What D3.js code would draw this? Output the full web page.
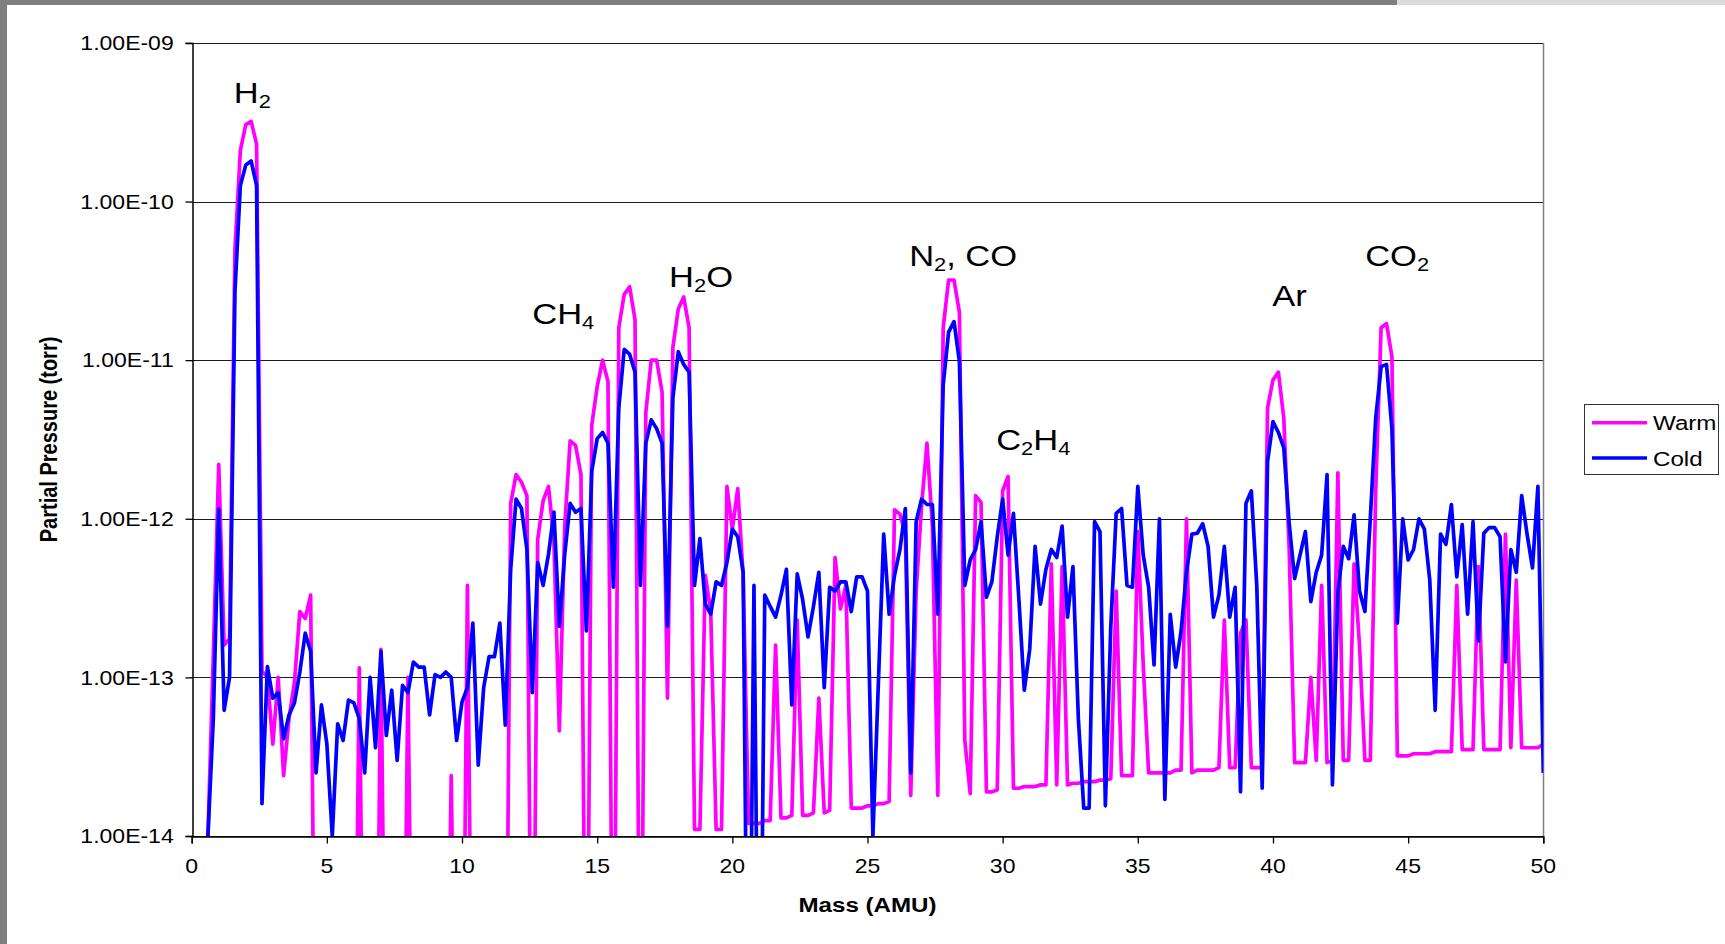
<!DOCTYPE html>
<meta charset="utf-8">
<style>
    body { margin: 0; background: #fff; }
    text { font-family: "Liberation Sans", Arial, sans-serif; fill: #000; }
</style>
<svg width="1725" height="944"></svg>
<script src="https://cdn.jsdelivr.net/npm/d3@7"></script>
<script>

    // mass axis: one reading every 0.2 AMU starting at 0.6
    var massStart = 0.6, massStep = 0.2;

    // warm scan (torr); 1e-16 = below the axis floor
    var warm = [
        1.0e-14, 1.4e-13, 2.2e-12, 1.6e-13, 1.75e-13, 5.0e-11, 2.1e-10, 3.05e-10, 3.2e-10, 2.3e-10,
        1.1e-13, 1.0e-13, 3.8e-14, 1.0e-13, 2.4e-14, 5.5e-14, 9.3e-14, 2.6e-13, 2.35e-13, 3.3e-13,
        1e-16, 1e-16, 1e-16, 1e-16, 1e-16, 1e-16, 1e-16, 1e-16, 1.15e-13, 1e-16,
        1e-16, 1e-16, 1.5e-13, 1e-16, 1e-16, 1e-16, 1e-16, 1.0e-13, 1e-16, 1e-16,
        1e-16, 1e-16, 1e-16, 1e-16, 1e-16, 2.4e-14, 1e-16, 1e-16, 3.8e-13, 1e-16,
        1e-16, 1e-16, 1e-16, 1e-16, 1e-16, 1e-16, 1.25e-12, 1.9e-12, 1.7e-12, 1.4e-12,
        1e-16, 7.4e-13, 1.3e-12, 1.6e-12, 7.2e-13, 4.6e-14, 9.0e-13, 3.1e-12, 2.9e-12, 1.9e-12,
        1e-16, 3.9e-12, 6.8e-12, 1.0e-11, 7.3e-12, 1e-16, 1.6e-11, 2.6e-11, 2.9e-11, 1.8e-11,
        1e-16, 4.7e-12, 1.0e-11, 1.0e-11, 6.3e-12, 7.4e-14, 1.2e-11, 2.1e-11, 2.5e-11, 1.6e-11,
        1.1e-14, 1.1e-14, 4.4e-13, 2.6e-13, 1.1e-14, 1.1e-14, 1.6e-12, 8.6e-13, 1.55e-12, 4.4e-13,
        1.2e-14, 1.2e-14, 1.2e-14, 1.25e-14, 1.25e-14, 1.6e-13, 1.3e-14, 1.3e-14, 1.35e-14, 2.3e-13,
        1.35e-14, 1.35e-14, 1.4e-14, 7.4e-14, 1.4e-14, 1.45e-14, 5.7e-13, 2.7e-13, 3.8e-13, 1.5e-14,
        1.5e-14, 1.5e-14, 1.55e-14, 1.55e-14, 1.6e-14, 1.6e-14, 1.65e-14, 1.14e-12, 1.07e-12, 8.0e-13,
        1.8e-14, 3.5e-13, 1.2e-12, 3.0e-12, 9.0e-13, 1.8e-14, 1.6e-11, 3.2e-11, 3.2e-11, 2.0e-11,
        4.0e-14, 1.85e-14, 1.4e-12, 1.27e-12, 1.9e-14, 1.9e-14, 1.95e-14, 1.5e-12, 1.85e-12, 2.0e-14,
        2.0e-14, 2.05e-14, 2.05e-14, 2.05e-14, 2.1e-14, 2.1e-14, 5.2e-13, 2.1e-14, 5.0e-13, 2.1e-14,
        2.15e-14, 2.15e-14, 2.2e-14, 2.2e-14, 2.2e-14, 2.25e-14, 2.25e-14, 2.3e-14, 3.5e-13, 2.4e-14,
        2.4e-14, 2.4e-14, 8.3e-13, 1.2e-13, 2.5e-14, 2.5e-14, 2.5e-14, 2.5e-14, 2.5e-14, 2.6e-14,
        2.6e-14, 1.0e-12, 2.5e-14, 2.6e-14, 2.6e-14, 2.6e-14, 2.6e-14, 2.7e-14, 2.3e-13, 2.7e-14,
        2.7e-14, 1.9e-13, 2.3e-13, 2.7e-14, 2.7e-14, 2.7e-14, 5.0e-12, 7.5e-12, 8.4e-12, 4.3e-12,
        6.4e-13, 2.9e-14, 2.9e-14, 2.9e-14, 1.0e-13, 3.0e-14, 3.8e-13, 2.9e-14, 3.0e-14, 1.95e-12,
        3.0e-14, 3.0e-14, 5.2e-13, 1.6e-13, 3.0e-14, 3.0e-14, 1.5e-12, 1.6e-11, 1.7e-11, 1.05e-11,
        3.2e-14, 3.2e-14, 3.2e-14, 3.3e-14, 3.3e-14, 3.3e-14, 3.3e-14, 3.4e-14, 3.4e-14, 3.4e-14,
        3.4e-14, 3.8e-13, 3.5e-14, 3.5e-14, 3.5e-14, 5.0e-13, 3.5e-14, 3.5e-14, 3.5e-14, 3.5e-14,
        8.0e-13, 3.6e-14, 4.1e-13, 3.6e-14, 3.6e-14, 3.6e-14, 3.6e-14, 3.8e-14
    ];

    // cold scan (torr)
    var cold = [
        1.0e-14, 5.5e-14, 1.15e-12, 6.2e-14, 1.0e-13, 2.7e-11, 1.26e-10, 1.7e-10, 1.8e-10, 1.26e-10,
        1.6e-14, 1.17e-13, 7.4e-14, 8.0e-14, 4.1e-14, 5.8e-14, 6.9e-14, 1.08e-13, 1.9e-13, 1.46e-13,
        2.5e-14, 6.7e-14, 3.8e-14, 1.0e-14, 5.1e-14, 4.0e-14, 7.2e-14, 6.9e-14, 5.5e-14, 2.5e-14,
        1.0e-13, 3.6e-14, 1.46e-13, 4.3e-14, 8.3e-14, 3.0e-14, 8.9e-14, 8.0e-14, 1.25e-13, 1.16e-13,
        1.16e-13, 5.8e-14, 1.04e-13, 1.0e-13, 1.08e-13, 1.0e-13, 4.0e-14, 7.0e-14, 8.6e-14, 2.2e-13,
        2.8e-14, 8.6e-14, 1.35e-13, 1.35e-13, 2.2e-13, 5.0e-14, 4.8e-13, 1.33e-12, 1.16e-12, 6.4e-13,
        8.0e-14, 5.3e-13, 3.8e-13, 6.0e-13, 1.1e-12, 2.1e-13, 6.0e-13, 1.25e-12, 1.1e-12, 1.16e-12,
        1.96e-13, 2.0e-12, 3.2e-12, 3.5e-12, 3.0e-12, 3.7e-13, 5.0e-12, 1.17e-11, 1.09e-11, 8.4e-12,
        3.8e-13, 3.0e-12, 4.2e-12, 3.7e-12, 3.0e-12, 2.1e-13, 5.8e-12, 1.13e-11, 9.4e-12, 8.4e-12,
        3.8e-13, 7.5e-13, 2.9e-13, 2.5e-13, 4.0e-13, 3.8e-13, 5.3e-13, 8.6e-13, 7.7e-13, 4.6e-13,
        1e-16, 3.8e-13, 1e-16, 3.3e-13, 2.8e-13, 2.4e-13, 3.3e-13, 4.8e-13, 6.7e-14, 4.5e-13,
        3.1e-13, 1.8e-13, 2.8e-13, 4.6e-13, 8.6e-14, 3.7e-13, 3.5e-13, 4.0e-13, 4.0e-13, 2.6e-13,
        4.3e-13, 4.3e-13, 3.5e-13, 1.0e-14, 9.0e-14, 8.0e-13, 2.5e-13, 4.4e-13, 6.4e-13, 1.16e-12,
        2.5e-14, 9.6e-13, 1.33e-12, 1.23e-12, 1.23e-12, 2.5e-13, 7.0e-12, 1.5e-11, 1.75e-11, 9.8e-12,
        3.8e-13, 5.5e-13, 6.4e-13, 9.6e-13, 3.2e-13, 4.0e-13, 7.7e-13, 1.33e-12, 5.9e-13, 1.08e-12,
        3.1e-13, 8.3e-14, 1.5e-13, 6.7e-13, 2.9e-13, 4.8e-13, 6.4e-13, 5.7e-13, 9.0e-13, 2.4e-13,
        5.0e-13, 5.5e-14, 1.5e-14, 1.5e-14, 9.6e-13, 8.3e-13, 1.55e-14, 2.1e-13, 1.08e-12, 1.16e-12,
        3.8e-13, 3.7e-13, 1.6e-12, 5.9e-13, 3.7e-13, 1.2e-13, 1.0e-12, 1.7e-14, 2.5e-13, 1.16e-13,
        1.95e-13, 4.6e-13, 8.0e-13, 8.1e-13, 9.3e-13, 6.7e-13, 2.4e-13, 3.3e-13, 6.7e-13, 2.4e-13,
        3.7e-13, 1.9e-14, 1.25e-12, 1.5e-12, 3.8e-13, 2.0e-14, 2.3e-12, 4.1e-12, 3.5e-12, 2.8e-12,
        9.3e-13, 4.2e-13, 5.9e-13, 8.3e-13, 3.0e-13, 4.6e-13, 5.9e-13, 1.9e-12, 2.1e-14, 3.4e-13,
        6.7e-13, 5.6e-13, 1.06e-12, 3.5e-13, 2.6e-13, 1.0e-12, 4.3e-12, 9.1e-12, 9.4e-12, 3.7e-12,
        2.2e-13, 1.0e-12, 5.5e-13, 6.4e-13, 1.0e-12, 8.6e-13, 4.1e-13, 6.2e-14, 8.0e-13, 6.9e-13,
        1.23e-12, 4.3e-13, 9.2e-13, 2.5e-13, 9.6e-13, 1.7e-13, 8.1e-13, 8.8e-13, 8.8e-13, 7.7e-13,
        1.25e-13, 6.4e-13, 4.6e-13, 1.4e-12, 8.0e-13, 4.9e-13, 1.6e-12, 2.5e-14
    ];

    var seriesNames = ["Warm", "Cold"];
    var seriesColors = ["#ff00ff", "#0000ff"];

    var yTicks = [1e-14, 1e-13, 1e-12, 1e-11, 1e-10, 1e-9];
    var xTicks = [0, 5, 10, 15, 20, 25, 30, 35, 40, 45, 50];

    // peak labels, "_" marks a subscript digit; anchored at (AMU, torr)
    var peakLabels = [
        {text: "H_2", amu: 1.56, p: 4.2e-10},
        {text: "CH_4", amu: 12.6, p: 1.7e-11},
        {text: "H_2O", amu: 17.66, p: 2.9e-11},
        {text: "N_2, CO", amu: 26.54, p: 3.9e-11},
        {text: "C_2H_4", amu: 29.76, p: 2.7e-12},
        {text: "Ar", amu: 39.97, p: 2.2e-11},
        {text: "CO_2", amu: 43.41, p: 3.9e-11}
    ];

    // the pasted chart is stretched a bit sideways, text included
    var stretch = 1.15;

    var svg = d3.select("svg");

    // grey page frame round the pasted chart
    svg.append("rect").attr("width", 1725).attr("height", 944).attr("fill", "#7f7f7f");
    svg.append("rect").attr("x", 1397).attr("y", 0).attr("width", 328).attr("height", 5).attr("fill", "#dcdcdc");
    svg.append("rect").attr("x", 7).attr("y", 5).attr("width", 1718).attr("height", 939).attr("fill", "#fff");

    var x = d3.scaleLinear().domain([0, 50]).range([191.7, 1543.3]);
    var y = d3.scaleLog().domain([1e-14, 1e-9]).range([836, 42.9]);

    var pl = x(0), pr = x(50), pt = y(1e-9), pb = y(1e-14);

    svg.append("clipPath").attr("id", "plotclip")
        .append("rect")
        .attr("x", pl).attr("y", pt)
        .attr("width", pr - pl).attr("height", pb - pt);

    // gridlines
    svg.append("g")
        .selectAll("line")
        .data(yTicks)
        .enter()
        .append("line")
        .attr("x1", pl).attr("x2", pr)
        .attr("y1", function (d) { return Math.round(y(d)) + 0.5; })
        .attr("y2", function (d) { return Math.round(y(d)) + 0.5; })
        .attr("stroke", "#1a1a1a")
        .attr("stroke-width", 1);

    // right border is grey
    svg.append("line")
        .attr("x1", Math.round(pr) + 0.5).attr("x2", Math.round(pr) + 0.5)
        .attr("y1", pt).attr("y2", pb)
        .attr("stroke", "#808080").attr("stroke-width", 1.5);

    function fmtE(d) {
        var e = Math.round(Math.log10(d));
        var s = String(Math.abs(e));
        if (s.length < 2) s = "0" + s;
        return "1.00E" + (e < 0 ? "-" : "+") + s;
    }

    // stretched text helper: text drawn at (0,0) inside a scaled group
    function stretchedText(parent, px, py, anchor) {
        return parent.append("g")
            .attr("transform", "translate(" + px + "," + py + ") scale(" + stretch + ",1)")
            .append("text")
            .attr("text-anchor", anchor || "start");
    }

    var yAxis = d3.axisLeft(y).tickValues(yTicks).tickFormat("").tickSize(7);
    var gy = svg.append("g")
        .attr("transform", "translate(" + (Math.round(pl) + 0.5) + ",0)")
        .call(yAxis);

    var xAxis = d3.axisBottom(x).tickValues(xTicks).tickFormat("").tickSize(7);
    var gx = svg.append("g")
        .attr("transform", "translate(0," + (Math.round(pb) + 0.5) + ")")
        .call(xAxis);

    [gx, gy].forEach(function (g) {
        g.select(".domain").attr("stroke", "#000").attr("stroke-width", 1.5);
        g.selectAll(".tick line").attr("stroke", "#000").attr("stroke-width", 1.3);
    });

    var labels = svg.append("g");
    yTicks.forEach(function (d) {
        stretchedText(labels, pl - 18, y(d), "end")
            .attr("dy", "0.36em")
            .style("font-size", "20px")
            .text(fmtE(d));
    });
    xTicks.forEach(function (d) {
        stretchedText(labels, x(d), pb + 37, "middle")
            .style("font-size", "20px")
            .text(d);
    });

    // series
    var line = d3.line()
        .x(function (d, i) { return x(massStart + massStep * i); })
        .y(function (d) { return y(d); });

    var plot = svg.append("g").attr("clip-path", "url(#plotclip)");
    [warm, cold].forEach(function (values, k) {
        plot.append("path")
            .datum(values)
            .attr("d", line)
            .attr("fill", "none")
            .attr("stroke", seriesColors[k])
            .attr("stroke-width", 3.7)
            .attr("stroke-linejoin", "round");
    });

    // peak annotations
    peakLabels.forEach(function (lab) {
        var t = stretchedText(svg, x(lab.amu), y(lab.p)).style("font-size", "30px");
        var parts = lab.text.split(/(_\d)/);
        var shifted = false;
        parts.forEach(function (part) {
            if (!part) return;
            if (part.charAt(0) === "_") {
                t.append("tspan").attr("dy", 5).style("font-size", "19px").text(part.slice(1));
                shifted = true;
            } else {
                t.append("tspan").attr("dy", shifted ? -5 : 0).text(part);
                shifted = false;
            }
        });
    });

    // axis titles
    stretchedText(svg, (pl + pr) / 2, 912, "middle")
        .style("font-size", "21px")
        .style("font-weight", "bold")
        .text("Mass (AMU)");

    svg.append("g")
        .attr("transform", "translate(57," + ((pt + pb) / 2) + ") scale(" + stretch + ",1) rotate(-90)")
        .append("text")
        .attr("text-anchor", "middle")
        .style("font-size", "20px")
        .style("font-weight", "bold")
        .text("Partial Pressure (torr)");

    // legend
    var legend = svg.append("g");
    legend.append("rect")
        .attr("x", 1584.5).attr("y", 404.5)
        .attr("width", 134).attr("height", 70)
        .attr("fill", "#fff").attr("stroke", "#333").attr("stroke-width", 1);

    seriesNames.forEach(function (name, i) {
        var ly = 422.7 + i * 35.3;
        legend.append("line")
            .attr("x1", 1592).attr("x2", 1647)
            .attr("y1", ly).attr("y2", ly)
            .attr("stroke", seriesColors[i]).attr("stroke-width", 3.6);
        stretchedText(legend, 1653, ly)
            .attr("dy", "0.36em")
            .style("font-size", "21px")
            .text(name);
    });

</script>
